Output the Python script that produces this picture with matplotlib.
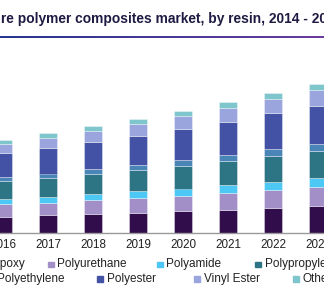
import matplotlib
matplotlib.use('Agg')
import matplotlib.pyplot as plt
import numpy as np
from matplotlib.patches import Rectangle

# ---- data ----
years = ['2016', '2017', '2018', '2019', '2020', '2021', '2022', '2023']
resins = ['Epoxy', 'Polyurethane', 'Polyamide', 'Polypropylene',
          'Polyethylene', 'Polyester', 'Vinyl Ester', 'Others']
epoxy = [16.2, 17.5, 18.5, 20.2, 21.8, 22.5, 24.4, 26.7]
polyurethane = [12.3, 12.7, 14.0, 14.3, 15.0, 17.0, 18.3, 18.7]
polyamide = [5.7, 6.0, 6.3, 7.0, 7.4, 8.0, 8.3, 9.0]
polypropylene = [17.3, 18.6, 20.0, 21.0, 22.6, 24.3, 26.0, 27.6]
polyethylene = [4.3, 4.4, 4.7, 5.3, 5.7, 5.7, 6.4, 6.7]
polyester = [23.7, 26.0, 27.7, 29.4, 31.0, 33.3, 36.0, 38.0]
vinyl_ester = [9.7, 9.6, 11.0, 11.6, 13.0, 14.0, 14.3, 16.0]
others = [4.0, 4.4, 4.6, 5.4, 5.3, 5.7, 6.3, 6.0]
series = [epoxy, polyurethane, polyamide, polypropylene,
          polyethylene, polyester, vinyl_ester, others]
colors = ['#320d4b', '#a38fc7', '#4dc8f5', '#2d7584',
          '#4a85b8', '#4352a4', '#9ba5dd', '#7ec6cc']

title = 'U.S. infrastructure polymer composites market, by resin, 2014 - 2025 (USD Million)'
title_prefix = 'U.S. infrastructu'
title_visible = 're polymer composites market, by resin, 2014 - 2'

W, H, DPI = 324, 295, 100
plt.rcParams['font.family'] = ['Liberation Sans', 'DejaVu Sans']
fig = plt.figure(figsize=(W / DPI, H / DPI), dpi=DPI)

# axes: baseline at y=232.7px from top, 1 data unit = 1 px
base_px = 232.7
top_px = 60.0
ax = fig.add_axes([0, (H - base_px) / H, 1, (base_px - top_px) / H])
x = np.arange(len(years))
bottom = np.zeros(len(years))
for name, vals, c in zip(resins, series, colors):
    ax.bar(x, vals, width=0.4, bottom=bottom, color=c,
           edgecolor=(1, 1, 1, 0.5), linewidth=0.5, label=name)
    bottom += np.array(vals)
ax.set_xlim(-3 / 45, (W - 3) / 45)
ax.set_ylim(0, base_px - top_px)
ax.set_xticks(x)
ax.set_xticklabels(years, fontsize=8.4, color='#222222')
ax.tick_params(axis='x', length=0, pad=4.5)
ax.set_yticks([])
for s in ['top', 'left', 'right']:
    ax.spines[s].set_visible(False)
ax.spines['bottom'].set_color('#9a9a9a')
ax.spines['bottom'].set_linewidth(1.0)

# title, sized and positioned so the visible part matches the reference crop
fig.canvas.draw()
r = fig.canvas.get_renderer()
tmp = fig.text(0, 0, title_visible, fontsize=10, fontweight='bold')
vw = tmp.get_window_extent(renderer=r).width
tmp.remove()
tsize = 10 * 318.0 / vw
tmp = fig.text(0, 0, title_prefix, fontsize=tsize, fontweight='bold')
pw = tmp.get_window_extent(renderer=r).width
tmp.remove()
fig.text((-pw + 0.5) / W, 1 - 18.5 / H, title, fontsize=tsize, fontweight='bold',
         color='#1e1a42', va='center', ha='left')

# gradient rule below the title
gax = fig.add_axes([0, 1 - 38.3 / H, 1, 2.0 / H])
grad = np.linspace(0, 1, 256)
c0 = np.array(matplotlib.colors.to_rgb('#26358f'))
c1 = np.array(matplotlib.colors.to_rgb('#6a3c9c'))
img = c0[None, :] * (1 - grad[:, None]) + c1[None, :] * grad[:, None]
gax.imshow(img[None, :, :], aspect='auto')
gax.axis('off')

# legend (flow layout, partly cut at the edges like the reference)
lfs = 8.5
# (marker left px, text right end px, label, colour index)
rows = [
    [(None, 25, 'Epoxy', 0), (48, None, 'Polyurethane', 1), (157, None, 'Polyamide', 2),
     (255, None, 'Polypropylene', 3)],
    [(None, 64, 'Polyethylene', 4), (97, None, 'Polyester', 5), (194, None, 'Vinyl Ester', 6),
     (293, None, 'Others', 7)],
]
row_y = [264.3, 279.0]
for ry, row in zip(row_y, rows):
    for mx, tend, lab, ci in row:
        if tend is not None:
            t = fig.text(tend / W, 1 - ry / H, lab, fontsize=lfs, color='#222222',
                         va='center', ha='right')
            tw = t.get_window_extent(renderer=r).width
            mx = tend - tw - 9.5
        else:
            fig.text((mx + 9.5) / W, 1 - ry / H, lab, fontsize=lfs, color='#222222',
                     va='center', ha='left')
        fig.patches.append(Rectangle((mx / W, 1 - (ry + 2.75) / H), 5.5 / W, 5.5 / H,
                                     transform=fig.transFigure, color=colors[ci],
                                     figure=fig))

fig.savefig('out.png', dpi=DPI)
